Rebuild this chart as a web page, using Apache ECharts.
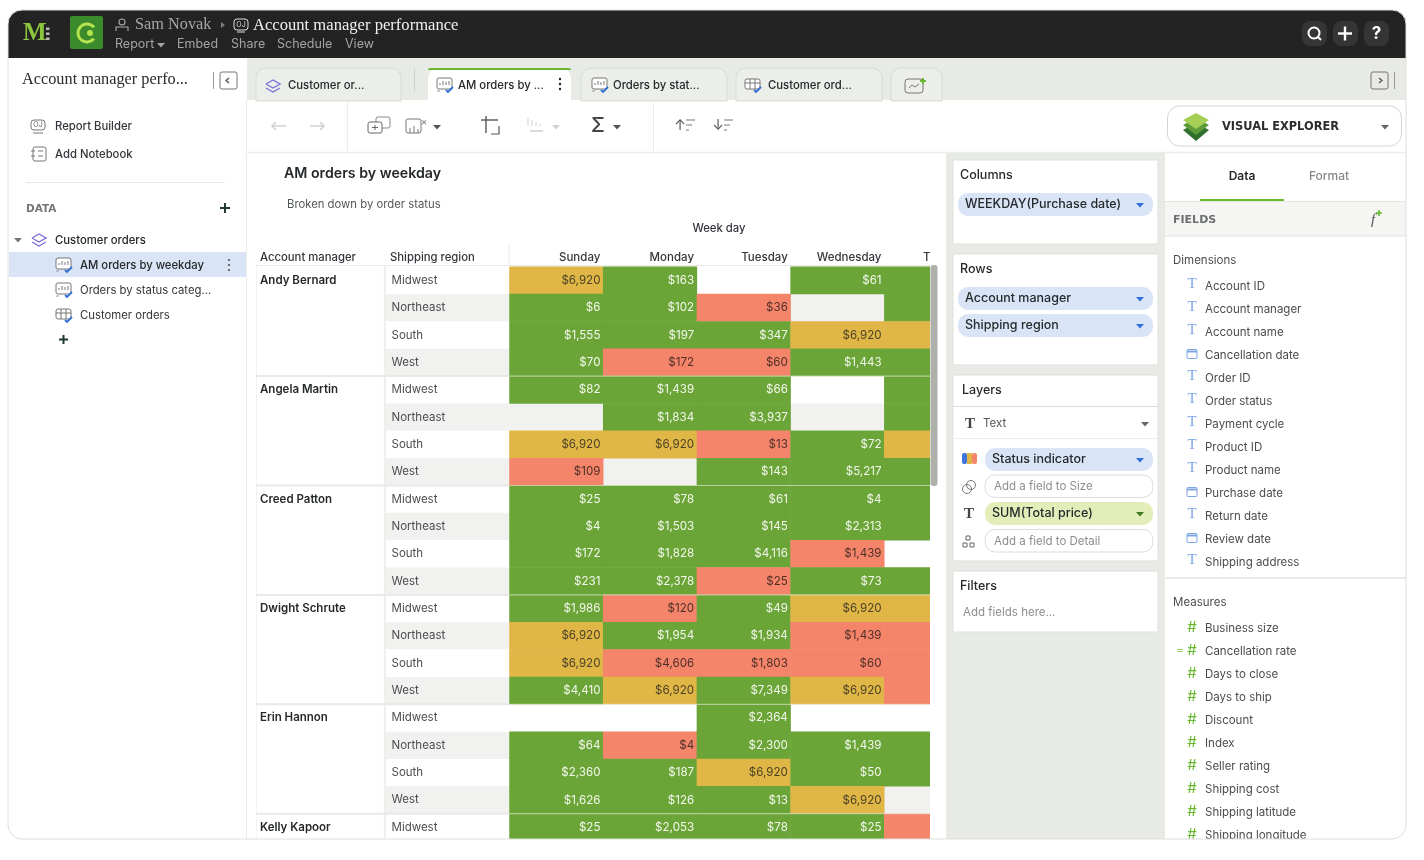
<!DOCTYPE html>
<html lang="en">
<head>
  <meta charset="utf-8">
  <title>AM orders by weekday</title>
  <script src="https://cdn.jsdelivr.net/npm/echarts@6/dist/echarts.min.js"></script>
  <style>
    html, body { margin: 0; padding: 0; background: #fff; }
    #chart { width: 1424px; height: 860px; }
  </style>
</head>
<body>
  <div id="chart"></div>
  <script>
    // rows of the table
    var managers = ['Andy Bernard', 'Angela Martin', 'Creed Patton', 'Dwight Schrute', 'Erin Hannon', 'Kelly Kapoor'];
    var regions = ['Midwest', 'Northeast', 'South', 'West'];
    var weekdays = ['Sunday', 'Monday', 'Tuesday', 'Wednesday', 'Thursday'];

    // SUM(Total price) per weekday, one entry per row (null = empty cell)
    var sundayTotals = [6920, 6, 1555, 70, 82, null, 6920, 109, 25, 4, 172, 231, 1986, 6920, 6920, 4410, null, 64, 2360, 1626, 25];
    var mondayTotals = [163, 102, 197, 172, 1439, 1834, 6920, null, 78, 1503, 1828, 2378, 120, 1954, 4606, 6920, null, 4, 187, 126, 2053];
    var tuesdayTotals = [null, 36, 347, 60, 66, 3937, 13, 143, 61, 145, 4116, 25, 49, 1934, 1803, 7349, 2364, 2300, 6920, 13, 78];
    var wednesdayTotals = [61, null, 6920, 1443, null, null, 72, 5217, 4, 2313, 1439, 73, 6920, 1439, 60, 6920, null, 1439, 50, 6920, 25];
    // Thursday is cut off by the panel edge, its amounts can't be read
    var thursdayTotals = [null, null, null, null, null, null, null, null, null, null, null, null, null, null, null, null, null, null, null, null, null];

    // status indicator per cell: 0 green, 1 amber, 2 red, null empty
    var sundayStatus = [1, 0, 0, 0, 0, null, 1, 2, 0, 0, 0, 0, 0, 1, 1, 0, null, 0, 0, 0, 0];
    var mondayStatus = [0, 0, 0, 2, 0, 0, 1, null, 0, 0, 0, 0, 2, 0, 2, 1, null, 2, 0, 0, 0];
    var tuesdayStatus = [null, 2, 0, 2, 0, 0, 2, 0, 0, 0, 0, 2, 0, 0, 2, 0, 0, 0, 1, 0, 0];
    var wednesdayStatus = [0, null, 1, 0, null, null, 0, 0, 0, 0, 2, 0, 1, 2, 2, 1, null, 0, 0, 1, 0];
    var thursdayStatus = [0, 0, 1, 0, 0, 0, 1, 0, 0, 0, null, 0, 1, 2, 2, 2, null, 0, 0, null, 2];

    var dimensionFields = ['Account ID', 'Account manager', 'Account name', 'Cancellation date', 'Order ID', 'Order status', 'Payment cycle', 'Product ID', 'Product name', 'Purchase date', 'Return date', 'Review date', 'Shipping address'];
    var dateFields = ['Cancellation date', 'Purchase date', 'Review date'];
    var measureFields = ['Business size', 'Cancellation rate', 'Days to close', 'Days to ship', 'Discount', 'Index', 'Seller rating', 'Shipping cost', 'Shipping latitude', 'Shipping longitude'];

    var allTotals = [sundayTotals, mondayTotals, tuesdayTotals, wednesdayTotals, thursdayTotals];
    var allStatus = [sundayStatus, mondayStatus, tuesdayStatus, wednesdayStatus, thursdayStatus];
    var statusColors = ['#6ba538', '#e0b646', '#f5856a'];
    var statusText = ['#f3f8ec', '#4d4326', '#4f2f28'];

    var UI = 'Inter, "Noto Sans", sans-serif';
    var SERIF = '"Liberation Serif", serif';
    var TOP = 266.7, ROW = 27.35, COL = 93.7;
    var rowCount = sundayTotals.length;

    var rowNames = [], rowManagers = [];
    for (var i = 0; i < rowCount; i++) {
      rowNames.push(regions[i % 4]);
      rowManagers.push(i % 4 === 0 ? managers[i / 4] : '');
    }

    var cells = [];
    allStatus.forEach(function(col, x) {
      col.forEach(function(s, y) {
        if (s === null) return;
        cells.push({
          value: [x, y, s, allTotals[x][y]],
          itemStyle: { color: statusColors[s] },
          label: { color: statusText[s] }
        });
      });
    });

    // ---- drawing helpers for the app chrome around the table
    var els = [];
    function rect(x, y, w, h, fill, o) {
      o = o || {};
      els.push({ type: 'rect', silent: true, z: o.z || 10, shape: { x: x, y: y, width: w, height: h, r: o.r || 0 },
        style: { fill: fill, stroke: o.stroke || null, lineWidth: o.lw || 1 } });
    }
    function line(x1, y1, x2, y2, c, lw, z) {
      els.push({ type: 'line', silent: true, z: z || 13, shape: { x1: x1, y1: y1, x2: x2, y2: y2 }, style: { stroke: c, lineWidth: lw || 1 } });
    }
    function txt(x, y, s, font, fill, align, z) {
      els.push({ type: 'text', silent: true, z: z || 14, style: { x: x, y: y + 0.7, text: s, font: font, fill: fill, align: align || 'left', verticalAlign: 'middle' } });
    }
    function poly(pts, fill, stroke, lw, z) {
      els.push({ type: fill ? 'polygon' : 'polyline', silent: true, z: z || 13, shape: { points: pts }, style: { fill: fill || null, stroke: stroke || null, lineWidth: lw || 1 } });
    }
    function circle(x, y, r, fill, stroke, lw) {
      els.push({ type: 'circle', silent: true, z: 13, shape: { cx: x, cy: y, r: r }, style: { fill: fill || null, stroke: stroke || null, lineWidth: lw || 1 } });
    }
    function caret(x, y, c) { poly([[x - 4, y - 2], [x + 4, y - 2], [x, y + 2.5]], c); }
    function layersIcon(x, y) {
      poly([[x - 7, y - 2], [x, y - 6], [x + 7, y - 2], [x, y + 2], [x - 7, y - 2]], null, '#7c6fd8', 1.4);
      poly([[x - 7, y + 2], [x, y + 6], [x + 7, y + 2]], null, '#7c6fd8', 1.4);
    }
    function sheetIcon(x, y) {
      rect(x - 8, y - 7, 15, 11, '#fff', { stroke: '#777', r: 2, z: 12 });
      line(x - 5, y, x - 5, y - 2, '#777', 1); line(x - 2, y, x - 2, y - 4, '#777', 1); line(x + 1, y, x + 1, y - 3, '#777', 1); line(x + 4, y, x + 4, y - 4, '#777', 1);
      poly([[x - 8, y + 6], [x - 5, y + 6]], null, '#999', 1);
      poly([[x + 1, y + 5], [x + 3, y + 7], [x + 8, y + 2]], null, '#2f6fd6', 1.8);
    }
    function tableIcon(x, y) {
      rect(x - 8, y - 6, 15, 10, '#fff', { stroke: '#777', r: 2, z: 12 });
      line(x - 8, y - 2, x + 7, y - 2, '#777', 1); line(x - 3, y - 6, x - 3, y + 4, '#777', 1); line(x + 2, y - 6, x + 2, y + 4, '#777', 1);
      poly([[x + 1, y + 5], [x + 3, y + 7], [x + 8, y + 2]], null, '#2f6fd6', 1.8);
    }
    function pill(x, y, w, label, fill, caretColor) {
      rect(x, y, w, 23, fill, { r: 10, z: 11 });
      txt(x + 7, y + 10.5, label, '500 12.5px ' + UI, '#26292b');
      caret(x + w - 13, y + 12, caretColor);
    }
    function ghostPill(x, y, w, label) {
      rect(x, y, w, 22.5, '#fff', { r: 10, stroke: '#dcdedb', z: 11 });
      txt(x + 9, y + 11, label, '11.5px ' + UI, '#8b8e8c');
    }
    function tab(x, w, label, active) {
      rect(x, 68, w, 33, active ? '#fff' : '#eceee9', { r: [10, 10, 0, 0], stroke: active ? null : '#d8dad5', z: 11 });
      if (active) rect(x, 68, w, 2, '#6ab82d', { r: [2, 2, 0, 0], z: 12 });
      if (label) txt(x + (active ? 30 : 32), 84.5, label, '500 11.3px ' + UI, '#26292b');
    }

    // page frame parts
    rect(8, 10, 1398, 49, '#222322');
    rect(8, 58, 239, 782, '#fff');
    rect(247, 58, 1159, 43, '#e8eae6');
    rect(247, 100, 1159, 53, '#fff');
    line(247, 152.5, 1406, 152.5, '#eceeea', 1.5);
    line(246.5, 100, 246.5, 840, '#eceeea', 1);

    // header bar
    txt(23, 33, 'M', 'bold 25px ' + SERIF, '#8cc63f');
    [29, 34, 39].forEach(function(y) { rect(46, y - 1.5, 3.5, 2.5, '#b9bdb7', { z: 12 }); });
    rect(70, 16, 33, 33, '#3b8a2c', { r: 2, z: 11 });
    els.push({ type: 'arc', silent: true, z: 13, shape: { cx: 87, cy: 33, r: 9, startAngle: 0.7, endAngle: 5.6, clockwise: true }, style: { fill: null, stroke: '#b5e34f', lineWidth: 3 } });
    circle(90, 33, 3, '#b5e34f');
    circle(122, 22, 3, null, '#a9aca9', 1.1);
    poly([[116, 31], [116, 27], [128, 27], [128, 31]], null, '#a9aca9', 1.1);
    txt(135, 24.5, 'Sam Novak', '16.3px ' + SERIF, '#a6a8a4');
    poly([[221, 22], [225, 25], [221, 28]], '#7d7f7b');
    rect(234, 19, 14, 11, '#222322', { r: 3, stroke: '#ddd', z: 12 });
    txt(241, 24.3, 'OJ', '7px ' + UI, '#ddd', 'center');
    line(237, 32, 245, 32, '#ddd', 1);
    txt(253, 24.5, 'Account manager performance', '16.6px ' + SERIF, '#f0f0ec');
    txt(115, 44, 'Report', '12.5px ' + UI, '#a2a5a1');
    caret(161, 45, '#a2a5a1');
    txt(177, 44, 'Embed', '12.5px ' + UI, '#a2a5a1');
    txt(231, 44, 'Share', '12.5px ' + UI, '#a2a5a1');
    txt(277, 44, 'Schedule', '12.5px ' + UI, '#a2a5a1');
    txt(345, 44, 'View', '12.5px ' + UI, '#a2a5a1');
    [1302, 1333, 1364].forEach(function(x) { rect(x, 21, 25, 25, '#343534', { r: 8, z: 11 }); });
    circle(1314, 33, 5.5, null, '#fff', 2);
    line(1318, 37, 1321, 40, '#fff', 2);
    line(1338, 33.5, 1352, 33.5, '#fff', 2.4);
    line(1345, 26.5, 1345, 40.5, '#fff', 2.4);
    txt(1376.5, 33, '?', 'bold 17px ' + UI, '#fff', 'center');

    // sidebar
    txt(22, 79.5, 'Account manager perfo...', '16.3px ' + SERIF, '#2a2c2b');
    rect(220, 72, 17, 17, '#fff', { r: 2, stroke: '#777', z: 11 });
    line(213.5, 72, 213.5, 89, '#999', 1);
    poly([[229, 78], [226, 80.5], [229, 83]], null, '#555', 1.3);
    rect(31, 120, 14, 10, '#fff', { r: 3, stroke: '#777', z: 12 });
    txt(38, 124.5, 'OJ', '7px ' + UI, '#666', 'center');
    line(33, 133, 43, 133, '#777', 1);
    txt(55, 126, 'Report Builder', '500 11.3px ' + UI, '#33363a');
    rect(33, 147, 13, 14, '#fff', { r: 2, stroke: '#777', z: 12 });
    line(38, 151, 43, 151, '#777', 1); line(38, 156, 43, 156, '#777', 1); line(31, 151, 35, 151, '#777', 1); line(31, 156, 35, 156, '#777', 1);
    txt(55, 154, 'Add Notebook', '500 11.3px ' + UI, '#33363a');
    line(26, 182.5, 225, 182.5, '#e8e9e6', 1);
    txt(26, 209, 'DATA', 'bold 10.5px "DejaVu Sans", sans-serif', '#73767a');
    line(220, 208, 230, 208, '#1f3a2c', 2);
    line(225, 203, 225, 213, '#1f3a2c', 2);
    caret(18, 240, '#777');
    layersIcon(39, 240);
    txt(55, 240, 'Customer orders', '500 11.3px ' + UI, '#26292b');
    rect(9, 252, 237, 25, '#d9e4f7', { z: 11 });
    sheetIcon(64, 265);
    txt(80, 265, 'AM orders by weekday', '500 11.3px ' + UI, '#26292b');
    [260, 265, 270].forEach(function(y) { circle(229, y, 1.1, '#555'); });
    sheetIcon(64, 290);
    txt(80, 290, 'Orders by status categ...', '11.3px ' + UI, '#33363a');
    tableIcon(64, 315);
    txt(80, 315, 'Customer orders', '11.3px ' + UI, '#33363a');
    line(59, 339.5, 68, 339.5, '#1f3a2c', 2);
    line(63.5, 335, 63.5, 344, '#1f3a2c', 2);

    // tabs
    tab(256, 145, 'Customer or...', false);
    layersIcon(273, 86);
    line(414.5, 68, 414.5, 92, '#cfd1cc', 1);
    tab(428, 143, 'AM orders by ...', true);
    sheetIcon(445, 85);
    [79, 84, 89].forEach(function(y) { circle(560, y, 1.2, '#222'); });
    tab(581, 146, 'Orders by stat...', false);
    sheetIcon(600, 85);
    tab(736, 146, 'Customer ord...', false);
    tableIcon(753, 85);
    tab(891, 51, '', false);
    rect(905, 79, 18, 14, '#eceee9', { r: 3, stroke: '#777', z: 12 });
    poly([[909, 88], [912, 85], [915, 87], [919, 84]], null, '#777', 1);
    line(920, 81, 926, 81, '#6ab82d', 2);
    line(923, 78, 923, 84, '#6ab82d', 2);
    rect(1371, 72, 17, 17, '#e8eae6', { r: 2, stroke: '#777', z: 11 });
    line(1394.5, 72, 1394.5, 89, '#999', 1);
    poly([[1379, 78], [1382, 80.5], [1379, 83]], null, '#555', 1.3);

    // toolbar
    line(347.5, 101, 347.5, 152, '#eceeea', 1);
    line(653.5, 101, 653.5, 152, '#eceeea', 1);
    [[286, 272], [310, 324]].forEach(function(a) {
      line(a[0], 126, a[1], 126, '#cfd2cf', 1.5);
      var d = a[1] > a[0] ? -4 : 4;
      poly([[a[1] + d, 122], [a[1], 126], [a[1] + d, 130]], null, '#cfd2cf', 1.5);
    });
    rect(368, 122, 14, 11, '#fff', { r: 2, stroke: '#666', z: 12 });
    rect(376, 117, 14, 11, null, { r: 2, stroke: '#888', z: 11 });
    line(372, 127.5, 378, 127.5, '#666', 1); line(375, 125, 375, 130, '#666', 1);
    rect(406, 119, 15, 14, '#fff', { r: 2, stroke: '#777', z: 12 });
    line(410, 133, 410, 128, '#777', 1); line(414, 133, 414, 126, '#777', 1); line(418, 133, 418, 129, '#777', 1);
    txt(424, 121, '×', '10px ' + UI, '#777', 'center');
    caret(437, 127, '#555');
    line(486, 116, 486, 133, '#555', 1.4); line(481, 120, 498, 120, '#555', 1.4);
    poly([[491, 134], [499, 134], [499, 126]], null, '#555', 1.2);
    [528, 532, 536, 540].forEach(function(x, i) { line(x, 126, x, 118 + i * 2, '#cfd2cf', 1); });
    line(530, 131, 543, 131, '#cfd2cf', 1.5);
    caret(556, 127, '#cfd2cf');
    txt(598, 125.5, 'Σ', '500 20px ' + UI, '#444', 'center');
    caret(617, 127, '#555');
    txt(680, 125, '↑', '14px ' + UI, '#555', 'center');
    txt(718, 125, '↓', '14px ' + UI, '#555', 'center');
    [[686, 695], [686, 692], [686, 689]].forEach(function(a, i) { line(a[0], 120 + i * 5, a[1], 120 + i * 5, '#777', 1); });
    [[724, 733], [724, 730], [724, 727]].forEach(function(a, i) { line(a[0], 120 + i * 5, a[1], 120 + i * 5, '#777', 1); });
    rect(1167.5, 106, 234, 40, '#fff', { r: 12, stroke: '#d3d6d1', z: 11 });
    poly([[1183, 130], [1196, 123], [1209, 130], [1196, 141]], '#2f6f2b');
    poly([[1183, 125], [1196, 118], [1209, 125], [1196, 135]], '#5d9c3a');
    poly([[1183, 120], [1196, 113], [1209, 120], [1196, 129]], '#a6cf55');
    txt(1222, 126.5, 'VISUAL EXPLORER', 'bold 11.4px "DejaVu Sans", sans-serif', '#2b2e2d');
    caret(1385, 127, '#666');

    // cover for what runs past the table on the right, and the shelf gutter
    rect(930, 153, 17, 690, '#fff');
    rect(946, 153, 219, 690, '#e8eae6');
    rect(1165, 153, 241, 690, '#fff');
    rect(930.5, 265, 7, 221, '#aeb0aa', { r: 3, z: 11 });
    rect(247, 839, 700, 21, '#fff', { z: 18 });

    // shelf panels
    [[160, 84], [254, 111], [375, 186], [571, 61]].forEach(function(p) {
      rect(953, p[0], 205, p[1], '#fff', { stroke: '#dfe1dc', z: 11 });
    });
    txt(960, 175, 'Columns', '500 12.5px ' + UI, '#26292b');
    pill(958, 193, 195, 'WEEKDAY(Purchase date)', '#d9e4f7', '#2f6fd6');
    txt(960, 269, 'Rows', '500 12.5px ' + UI, '#26292b');
    pill(958, 287, 195, 'Account manager', '#d9e4f7', '#2f6fd6');
    pill(958, 314, 195, 'Shipping region', '#d9e4f7', '#2f6fd6');
    txt(962, 390, 'Layers', '500 12.5px ' + UI, '#26292b');
    line(953, 406.5, 1158, 406.5, '#dcdedb', 1);
    txt(970, 423, 'T', 'bold 15px ' + SERIF, '#444', 'center');
    txt(983, 423, 'Text', '11.5px ' + UI, '#55585a');
    caret(1145, 424, '#666');
    line(953, 438.5, 1158, 438.5, '#eceeea', 1);
    rect(962, 453, 5, 11, '#3f74d8', { r: 2, z: 12 });
    rect(967, 453, 5, 11, '#e0b646', { z: 12 });
    rect(972, 453, 5, 11, '#f5856a', { r: 2, z: 12 });
    pill(985, 448, 168, 'Status indicator', '#d9e4f7', '#2f6fd6');
    circle(971, 485, 4.5, null, '#777', 1);
    circle(967, 489, 4.5, null, '#777', 1);
    ghostPill(985, 475, 168, 'Add a field to Size');
    txt(969, 513, 'T', 'bold 15px ' + SERIF, '#444', 'center');
    pill(985, 502, 168, 'SUM(Total price)', '#e3edb9', '#3d7a22');
    rect(966, 536, 4, 4, '#fff', { stroke: '#666', z: 12 });
    rect(963, 543, 4, 4, '#fff', { stroke: '#666', z: 12 });
    rect(970, 543, 4, 4, '#fff', { stroke: '#666', z: 12 });
    ghostPill(985, 529.5, 168, 'Add a field to Detail');
    txt(960, 586, 'Filters', '500 12.5px ' + UI, '#26292b');
    txt(963, 612, 'Add fields here...', '11.5px ' + UI, '#8b8e8c');

    // fields panel
    txt(1242, 176, 'Data', '600 12px ' + UI, '#26292b', 'center');
    txt(1329, 176, 'Format', '500 12px ' + UI, '#85888a', 'center');
    line(1165, 201.5, 1406, 201.5, '#e3e5e1', 1);
    rect(1200, 199, 84, 2, '#6ab82d', { z: 12 });
    rect(1165, 202, 241, 34, '#f5f5f3', { z: 11 });
    line(1165, 236, 1406, 236, '#e3e5e1', 1);
    txt(1173, 219, 'FIELDS', 'bold 11px "DejaVu Sans", sans-serif', '#6d7072');
    txt(1373, 219, 'f', 'italic 15px ' + SERIF, '#555', 'center');
    line(1376, 213, 1382, 213, '#6ab82d', 1.6);
    line(1379, 210, 1379, 216, '#6ab82d', 1.6);
    txt(1173, 259.5, 'Dimensions', '11.5px ' + UI, '#4a4d4f');
    dimensionFields.forEach(function(name, k) {
      var y = 285.5 + k * 23;
      if (dateFields.indexOf(name) >= 0) {
        rect(1187, y - 5, 10, 9, '#fff', { r: 1, stroke: '#7ea4e4', z: 12 });
        line(1187, y - 3, 1197, y - 3, '#7ea4e4', 2);
      } else {
        txt(1192, y - 2, 'T', '15px ' + SERIF, '#7ea4e4', 'center');
      }
      txt(1205, y, name, '11.5px ' + UI, '#4a4d4f');
    });
    line(1165, 578, 1406, 578, '#e3e5e1', 1.5);
    txt(1173, 601.5, 'Measures', '11.5px ' + UI, '#4a4d4f');
    measureFields.forEach(function(name, k) {
      var y = 627.5 + k * 23;
      txt(1192, y - 1, '#', '15px ' + UI, '#6ab82d', 'center');
      txt(1205, y, name, '11.5px ' + UI, '#4a4d4f');
    });
    line(1177, 649.5, 1183, 649.5, '#a5d46c', 1);
    line(1177, 651.5, 1183, 651.5, '#a5d46c', 1);

    // table trim
    txt(260, 257, 'Account manager', '500 11.3px ' + UI, '#33363a', 'left', 5);
    txt(390, 257, 'Shipping region', '500 11.3px ' + UI, '#33363a', 'left', 5);
    txt(719, 228, 'Week day', '500 11.3px ' + UI, '#33363a', 'center', 5);
    line(256, 265.5, 930, 265.5, '#e9eae7', 1, 5);
    line(509, 243, 509, 265, '#eceeea', 1, 5);
    rect(383.8, 266, 2, 574, '#eeefed', { z: 5 });
    rect(256, 266, 1, 574, '#f3f3f1', { z: 5 });
    for (var g = 1; g < managers.length; g++) {
      var gy = TOP + g * 4 * ROW;
      line(256, gy, 509, gy, '#e9eae7', 2, 5);
      line(509, gy, 930, gy, 'rgba(236,240,228,0.55)', 1.2, 5);
    }

    // outer rounded corners of the screenshot
    els.push({ type: 'rect', silent: true, z: 20, shape: { x: 2, y: 4, width: 1410, height: 841, r: 20 }, style: { fill: null, stroke: '#fff', lineWidth: 12 } });
    els.push({ type: 'rect', silent: true, z: 21, shape: { x: 8, y: 10, width: 1398, height: 829, r: 14 }, style: { fill: null, stroke: '#dddfdc', lineWidth: 1 } });

    function rowAxis(gridIndex, labels, labelStyle) {
      return {
        type: 'category', gridIndex: gridIndex, data: labels, inverse: true,
        axisLine: { show: false }, axisTick: { show: false },
        axisLabel: Object.assign({ show: true, interval: 0, inside: true, align: 'left', fontFamily: UI, fontSize: 11.5 }, labelStyle),
        splitArea: { show: true, interval: 0, areaStyle: { color: ['#ffffff', '#f1f1ef'] } }
      };
    }

    var chart = echarts.init(document.getElementById('chart'));
    chart.setOption({
      backgroundColor: '#fff',
      animation: false,
      title: [
        { text: 'AM orders by weekday', left: 279, top: 162, textStyle: { fontFamily: UI, fontSize: 14.2, fontWeight: 600, color: '#26292b' } },
        { text: 'Broken down by order status', left: 282, top: 194, textStyle: { fontFamily: UI, fontSize: 11.3, fontWeight: 400, color: '#55585a' } }
      ],
      grid: [
        { left: 509.5, top: TOP, width: COL * weekdays.length, height: ROW * rowCount },
        { left: 385.5, top: TOP, width: 124, height: ROW * rowCount },
        { left: 256, top: TOP, width: 128, height: ROW * rowCount }
      ],
      xAxis: [
        {
          type: 'category', gridIndex: 0, position: 'top', data: weekdays,
          axisLine: { show: false }, axisTick: { show: false },
          axisLabel: { interval: 0, margin: 3, align: 'right', padding: [0, -44, 0, 0], fontFamily: UI, fontSize: 11.5, fontWeight: 500, color: '#33363a' }
        },
        { type: 'category', gridIndex: 1, show: false, data: [''] },
        { type: 'category', gridIndex: 2, show: false, data: [''] }
      ],
      yAxis: [
        Object.assign(rowAxis(0, rowNames, {}), { axisLabel: { show: false } }),
        rowAxis(1, rowNames, { margin: 6, color: '#4a4d4f' }),
        Object.assign(rowAxis(2, rowManagers, { margin: 4, color: '#26292b', fontWeight: 600 }), { splitArea: { show: false } })
      ],
      series: [{
        name: 'SUM(Total price)',
        type: 'heatmap',
        xAxisIndex: 0,
        yAxisIndex: 0,
        data: cells,
        label: {
          show: true,
          position: 'insideRight',
          distance: 3,
          fontFamily: UI,
          fontSize: 11.6,
          formatter: function(p) {
            var v = p.value[3];
            return v === null ? '' : '$' + v.toLocaleString('en-US');
          }
        },
        emphasis: { disabled: true }
      }],
      graphic: { elements: els }
    });
  </script>
</body>
</html>
